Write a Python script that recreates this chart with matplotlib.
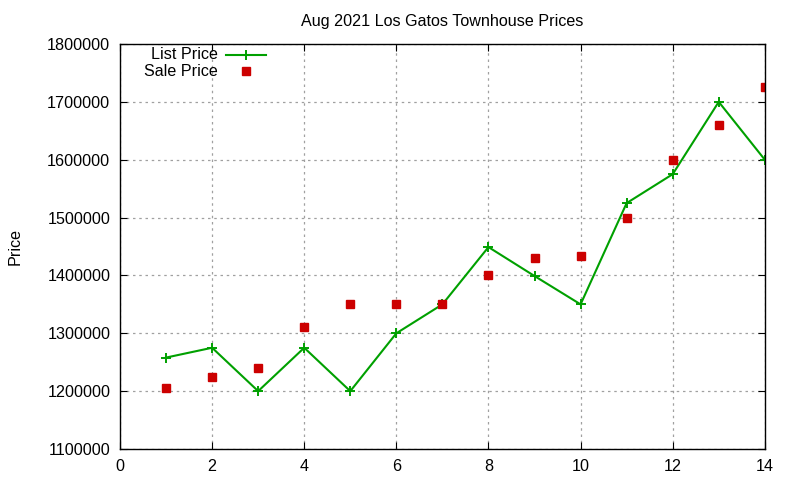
import matplotlib
matplotlib.use("Agg")
import matplotlib.pyplot as plt
from matplotlib.ticker import MultipleLocator, FormatStrFormatter

plt.rcParams['font.family'] = ['Liberation Sans', 'DejaVu Sans']

# --- data ---
house = list(range(1, 15))
list_price = [1258000, 1275000, 1200000, 1275000, 1200000, 1300000, 1350000,
              1449000, 1399000, 1350000, 1525000, 1575000, 1700000, 1600000]
sale_price = [1205000, 1225000, 1240000, 1310000, 1350000, 1350000, 1350000,
              1400000, 1430000, 1433000, 1500000, 1600000, 1660000, 1725000]

GREEN = "#00a000"
RED = "#cc0000"
FS = 11.6

fig = plt.figure(figsize=(8, 4.8), dpi=100)
ax = fig.add_axes([0.15, 0.0646, 0.806, 0.8437])

ax.plot(house, list_price, color=GREEN, lw=1.5, marker="+", ms=7, mew=1.4)
ax.plot(house, sale_price, ls="none", color=RED, marker="s", ms=5.8)

ax.set_xlim(0, 14)
ax.set_ylim(1100000, 1800000)
ax.xaxis.set_major_locator(MultipleLocator(2))
ax.yaxis.set_major_locator(MultipleLocator(100000))
ax.yaxis.set_major_formatter(FormatStrFormatter("%d"))
ax.tick_params(direction="in", top=True, right=True, length=5, labelsize=FS, pad=7)
ax.grid(True, ls=(0, (2, 3)), color="#a0a0a0", lw=0.9)
for s in ax.spines.values():
    s.set_linewidth(1.0)

ax.set_title("Aug 2021 Los Gatos Townhouse Prices", fontsize=FS, pad=13)
ax.set_ylabel("Price", fontsize=FS, labelpad=18)

# gnuplot-style key: right-aligned text, sample on the right
tr = ax.transAxes
ax.text(0.152, 0.973, "List Price", transform=tr, ha="right", va="center", fontsize=FS)
ax.text(0.152, 0.933, "Sale Price", transform=tr, ha="right", va="center", fontsize=FS)
ax.plot([0.164, 0.226], [0.973, 0.973], transform=tr, color=GREEN, lw=1.5, clip_on=False)
ax.plot([0.195], [0.973], transform=tr, color=GREEN, marker="+", ms=7, mew=1.4, clip_on=False)
ax.plot([0.195], [0.933], transform=tr, color=RED, marker="s", ms=5.8, ls="none", clip_on=False)

fig.savefig("out.png", dpi=100)
